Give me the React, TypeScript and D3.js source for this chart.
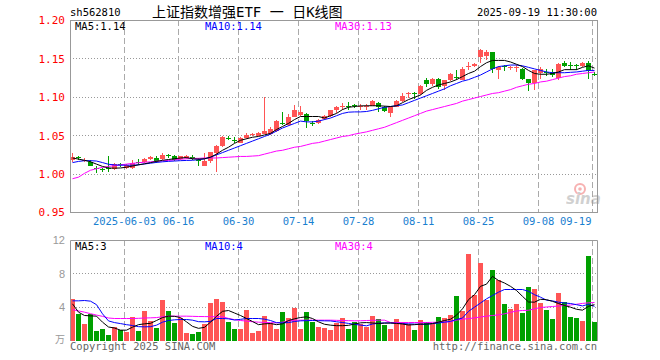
import React from "react";
import * as d3 from "d3";

// trading-day index of each date label on the x axis
const tickIdx = [9, 18, 28, 38, 48, 58, 68, 78, 87];
const tickLabels = ["2025-06-03", "06-16", "06-30", "07-14", "07-28", "08-11", "08-25", "09-08", "09-19"];

const priceTicks = [0.95, 1.0, 1.05, 1.1, 1.15, 1.2];
const volTicks = [4, 8, 12];

const open = [
  1.019, 1.0225, 1.017, 1.016, 1.0085, 1.006, 1.0075, 1.007, 1.0135, 1.008,
  1.008, 1.016, 1.016, 1.02, 1.021, 1.02, 1.0245, 1.024, 1.02, 1.021,
  1.0225, 1.019, 1.011, 1.0177, 1.027, 1.037, 1.047, 1.045, 1.041, 1.0473,
  1.052, 1.05, 1.0525, 1.0516, 1.056, 1.066, 1.0633, 1.075, 1.077, 1.0785,
  1.0668, 1.0663, 1.072, 1.0763, 1.083, 1.087, 1.0885, 1.0895, 1.0878, 1.088,
  1.0893, 1.093, 1.088, 1.08, 1.088, 1.0955, 1.104, 1.105, 1.1045, 1.1228,
  1.1167, 1.124, 1.115, 1.122, 1.1265, 1.123, 1.14, 1.1405, 1.153, 1.1544,
  1.1587, 1.135, 1.1405, 1.1385, 1.1385, 1.137, 1.1232, 1.1184, 1.131, 1.133,
  1.1327, 1.1255, 1.145, 1.142, 1.1415, 1.1405, 1.145, 1.1302,
];
const high = [
  1.027, 1.024, 1.0205, 1.018, 1.011, 1.008, 1.023, 1.015, 1.0145, 1.013,
  1.018, 1.02, 1.021, 1.024, 1.024, 1.0275, 1.026, 1.025, 1.024, 1.025,
  1.025, 1.021, 1.027, 1.029, 1.038, 1.05, 1.049, 1.048, 1.048, 1.054,
  1.054, 1.055, 1.1, 1.061, 1.07, 1.0806, 1.078, 1.0906, 1.089, 1.0795,
  1.069, 1.0715, 1.077, 1.084, 1.089, 1.0924, 1.0937, 1.0915, 1.091, 1.091,
  1.097, 1.094, 1.0885, 1.089, 1.097, 1.105, 1.1075, 1.107, 1.116, 1.1245,
  1.125, 1.125, 1.123, 1.132, 1.136, 1.139, 1.1457, 1.145, 1.1632, 1.162,
  1.159, 1.1414, 1.1427, 1.1414, 1.1427, 1.138, 1.124, 1.136, 1.14, 1.137,
  1.137, 1.145, 1.147, 1.1457, 1.143, 1.146, 1.147, 1.133,
];
const low = [
  1.0155, 1.019, 1.016, 1.01, 1.002, 1.003, 1.003, 1.005, 1.009, 1.007,
  1.007, 1.012, 1.015, 1.019, 1.015, 1.019, 1.021, 1.017, 1.019, 1.02,
  1.018, 1.011, 1.01, 1.015, 1.003, 1.035, 1.045, 1.041, 1.04, 1.046,
  1.05, 1.049, 1.052, 1.051, 1.055, 1.064, 1.062, 1.074, 1.076, 1.06,
  1.063, 1.065, 1.071, 1.075, 1.08, 1.0837, 1.0837, 1.086, 1.084, 1.084,
  1.0885, 1.0815, 1.0815, 1.0737, 1.087, 1.094, 1.099, 1.098, 1.1025, 1.1137,
  1.115, 1.111, 1.1097, 1.121, 1.122, 1.122, 1.136, 1.139, 1.1445, 1.148,
  1.1316, 1.124, 1.134, 1.135, 1.1335, 1.123, 1.108, 1.11, 1.124, 1.128,
  1.127, 1.1219, 1.139, 1.136, 1.135, 1.1395, 1.124, 1.1275,
];
const close = [
  1.022, 1.022, 1.019, 1.01, 1.008, 1.0055, 1.0065, 1.013, 1.013, 1.012,
  1.015, 1.015, 1.02, 1.0225, 1.017, 1.0255, 1.024, 1.019, 1.023, 1.024,
  1.022, 1.0185, 1.0165, 1.0285, 1.037, 1.048, 1.0468, 1.0446, 1.0473, 1.0503,
  1.0525, 1.053, 1.0555, 1.059, 1.069, 1.0655, 1.075, 1.0837, 1.081, 1.069,
  1.0663, 1.0707, 1.0763, 1.0837, 1.088, 1.0885, 1.0878, 1.089, 1.0885, 1.0893,
  1.095, 1.088, 1.0826, 1.088, 1.0955, 1.1023, 1.1053, 1.1045, 1.115, 1.1175,
  1.124, 1.113, 1.122, 1.1306, 1.126, 1.137, 1.1405, 1.1437, 1.162, 1.1587,
  1.137, 1.139, 1.14, 1.139, 1.139, 1.124, 1.1184, 1.1349, 1.137, 1.1325,
  1.1284, 1.1437, 1.1405, 1.1414, 1.141, 1.145, 1.134, 1.1297,
];

const ma5 = [
  1.021, 1.0195, 1.018, 1.016, 1.013, 1.01, 1.008, 1.0077, 1.008, 1.009,
  1.0105, 1.012, 1.0134, 1.015, 1.0165, 1.018, 1.019, 1.02, 1.021, 1.0215,
  1.02, 1.0195, 1.02, 1.022, 1.026, 1.031, 1.035, 1.04, 1.044, 1.046,
  1.048, 1.049, 1.051, 1.053, 1.058, 1.062, 1.066, 1.071, 1.075, 1.075,
  1.075, 1.075, 1.073, 1.076, 1.079, 1.084, 1.087, 1.088, 1.0888, 1.089,
  1.089, 1.089, 1.0885, 1.088, 1.089, 1.093, 1.097, 1.1, 1.103, 1.109,
  1.113, 1.116, 1.118, 1.12, 1.123, 1.127, 1.131, 1.134, 1.14, 1.145,
  1.148, 1.148, 1.148, 1.146, 1.143, 1.14, 1.135, 1.131, 1.13, 1.13,
  1.131, 1.133, 1.136, 1.136, 1.136, 1.139, 1.141, 1.138,
];
const ma10 = [
  1.015, 1.0165, 1.0175, 1.0175, 1.017, 1.015, 1.0128, 1.012, 1.0116, 1.0116,
  1.0116, 1.0122, 1.0132, 1.0142, 1.0152, 1.016, 1.0166, 1.017, 1.0175, 1.0178,
  1.018, 1.0188, 1.0198, 1.022, 1.025, 1.028, 1.031, 1.034, 1.037, 1.04,
  1.043, 1.046, 1.049, 1.052, 1.056, 1.06, 1.063, 1.066, 1.069, 1.068,
  1.068, 1.069, 1.071, 1.073, 1.076, 1.079, 1.0806, 1.081, 1.081, 1.0815,
  1.083, 1.085, 1.087, 1.088, 1.089, 1.09, 1.093, 1.096, 1.099, 1.102,
  1.105, 1.108, 1.111, 1.115, 1.118, 1.121, 1.123, 1.126, 1.129, 1.133,
  1.137, 1.14, 1.141, 1.142, 1.142, 1.141, 1.139, 1.137, 1.135, 1.133,
  1.132, 1.132, 1.132, 1.1325, 1.133, 1.134, 1.135, 1.135,
];
const ma30 = [
  0.994, 0.996, 1.001, 1.005, 1.007, 1.0088, 1.01, 1.011, 1.012, 1.013,
  1.014, 1.0148, 1.0155, 1.016, 1.0167, 1.0172, 1.0178, 1.0185, 1.0193, 1.02,
  1.0205, 1.0205, 1.021, 1.021, 1.021, 1.0215, 1.022, 1.0225, 1.023, 1.023,
  1.0235, 1.024, 1.026, 1.028, 1.03, 1.031, 1.033, 1.035, 1.036, 1.038,
  1.04, 1.041, 1.043, 1.045, 1.047, 1.049, 1.05, 1.052, 1.0535, 1.055,
  1.057, 1.059, 1.061, 1.064, 1.067, 1.07, 1.073, 1.076, 1.079, 1.082,
  1.084, 1.086, 1.088, 1.09, 1.092, 1.095, 1.097, 1.099, 1.101, 1.103,
  1.105, 1.106, 1.108, 1.11, 1.113, 1.115, 1.117, 1.118, 1.12, 1.121,
  1.123, 1.125, 1.127, 1.128, 1.13, 1.131, 1.132, 1.133,
];

// volume, 万
const volume = [
  4.96, 3.24, 1.96, 3.16, 1.16, 1.36, 0.64, 1.6, 1.24, 1.04,
  2.8, 1.12, 3.52, 2.32, 1.48, 4.84, 3.52, 2.08, 2.68, 0.88,
  0.76, 1.0, 1.96, 4.48, 4.96, 4.64, 2.2, 1.36, 1.36, 3.64,
  0.88, 1.12, 2.92, 2.08, 1.36, 3.4, 2.68, 3.88, 1.36, 3.4,
  2.2, 1.6, 1.48, 1.24, 2.12, 2.68, 1.36, 2.2, 1.96, 1.6,
  2.92, 2.56, 1.84, 1.36, 2.56, 2.2, 1.96, 1.24, 2.44, 2.2,
  1.96, 2.8, 2.68, 3.04, 5.32, 3.52, 10.36, 5.44, 9.28, 4.84,
  8.44, 7.24, 4.36, 3.76, 4.36, 3.28, 6.4, 6.16, 4.48, 3.64,
  2.56, 5.68, 4.6, 2.8, 2.68, 2.32, 10.12, 2.2,
];
const volMa5 = [
  4.4, 3.4, 3.0, 2.96, 2.92, 2.2, 1.62, 1.5, 1.24, 1.24,
  1.6, 1.9, 2.0, 2.06, 2.4, 2.75, 2.92, 2.9, 2.75, 2.24,
  1.7, 1.46, 1.58, 2.2, 2.9, 3.5, 3.6, 3.3, 3.0, 2.64,
  2.28, 1.9, 2.0, 2.04, 1.9, 2.0, 2.4, 2.6, 2.76, 2.84,
  2.64, 2.24, 1.95, 1.84, 1.78, 1.78, 1.82, 1.98, 2.12, 2.15,
  2.1, 2.05, 2.08, 2.1, 2.05, 1.98, 1.86, 1.9, 1.96, 1.96,
  2.04, 2.2, 2.4, 2.55, 3.04, 3.8, 4.9, 5.5, 6.5, 6.76,
  7.7, 7.2, 6.9, 6.5, 6.0, 5.3, 4.62, 4.6, 4.94, 4.9,
  4.7, 4.44, 4.2, 4.0, 3.75, 3.64, 4.1, 4.3,
];
const volMa10 = [
  4.76, 4.76, 4.8, 4.72, 4.3, 3.2, 2.35, 2.15, 2.03, 1.9,
  1.8, 1.66, 1.64, 1.66, 1.84, 2.2, 2.4, 2.48, 2.52, 2.52,
  2.44, 2.26, 2.24, 2.3, 2.64, 2.64, 2.6, 2.46, 2.54, 2.64,
  2.64, 2.64, 2.56, 2.4, 2.14, 2.12, 2.15, 2.28, 2.36, 2.38,
  2.4, 2.38, 2.36, 2.35, 2.25, 2.16, 2.05, 1.94, 1.85, 1.76,
  1.98, 2.06, 2.12, 2.1, 2.06, 2.03, 2.0, 1.97, 1.96, 1.96,
  2.02, 2.1, 2.2, 2.3, 2.52, 2.7, 3.5, 4.0, 4.5, 5.0,
  5.4, 5.8, 6.12, 6.12, 6.12, 6.12, 5.9, 5.5, 5.2, 4.84,
  4.75, 4.6, 4.5, 4.44, 4.3, 4.15, 4.35, 4.1,
];
const volMa30 = [
  3.7, 3.55, 3.4, 3.22, 3.05, 2.9, 2.7, 2.64, 2.64, 2.64,
  2.64, 2.66, 2.7, 2.72, 2.75, 2.85, 2.92, 2.92, 2.92, 2.92,
  2.9, 2.88, 2.87, 2.86, 2.85, 2.84, 2.65, 2.5, 2.4, 2.33,
  2.25, 2.2, 2.17, 2.14, 2.12, 2.2, 2.35, 2.44, 2.44, 2.44,
  2.44, 2.44, 2.44, 2.44, 2.42, 2.4, 2.38, 2.36, 2.37, 2.4,
  2.42, 2.44, 2.44, 2.16, 2.16, 2.16, 2.16, 2.16, 2.16, 2.16,
  2.18, 2.2, 2.22, 2.24, 2.45, 2.56, 2.62, 2.72, 2.82, 2.92,
  3.0, 3.08, 3.2, 3.38, 3.54, 3.6, 3.63, 3.8, 3.96, 4.02,
  4.08, 4.14, 4.2, 4.26, 4.35, 4.45, 4.52, 4.56,
];

const W = 660;
const H = 360;
const left = 70;
const right = 597;
const mono = "'DejaVu Sans Mono', monospace";
const UP = "#ff5555";
const DOWN = "#00a000";
const GRID = "#aaaaaa";
const FRAME = "#999999";

export default function App() {
  const n = close.length;
  const idx = d3.range(n);
  const x = d3.scaleBand<number>().domain(idx).range([left, left + n * 6]);
  const y = d3.scaleLinear().domain([0.95, 1.2]).range([212.5, 20.5]);
  const yv = d3.scaleLinear().domain([0, 12]).range([340.5, 240.5]);
  const cx = (i: number) => (x(i) ?? 0) + 2.5;
  const px = (v: number) => Math.floor(v) + 0.5;

  const priceLine = (arr: number[]) =>
    d3.line<number>().x((_, i) => cx(i)).y((d) => y(d))(arr) ?? "";
  const volLine = (arr: number[]) =>
    d3.line<number>().x((_, i) => cx(i)).y((d) => yv(d))(arr) ?? "";

  const fmt = d3.format(".2f");

  const vGrid = (top: number, bottom: number) =>
    tickIdx.map((t) => (
      <line key={"g" + top + t} x1={px(x(t) ?? 0)} x2={px(x(t) ?? 0)} y1={top} y2={bottom}
        stroke={GRID} strokeDasharray="6,3" />
    ));

  return (
    <div style={{ position: "absolute", left: 0, top: 0 }}>
      <svg width={W} height={H} style={{ display: "block", background: "#fff" }}>
        <defs>
          <clipPath id="pc"><rect x={left + 0.5} y={20} width={right - left} height={193} /></clipPath>
          <clipPath id="vc"><rect x={left + 0.5} y={240} width={right - left} height={101} /></clipPath>
        </defs>

        {/* header */}
        <text x={70} y={16} fontFamily={mono} fontSize={10.5}>sh562810</text>
        <text x={152} y={17} fontFamily={"'DejaVu Sans Mono', 'Noto Sans CJK SC', monospace"} fontSize={14}>上证指数增强ETF 一 日K线图</text>
        <text x={597} y={16} fontFamily={mono} fontSize={10.5} textAnchor="end">2025-09-19 11:30:00</text>

        {/* price grid */}
        {priceTicks.slice(1, -1).map((t) => (
          <line key={"h" + t} x1={left} x2={right} y1={px(y(t))} y2={px(y(t))} stroke={FRAME} strokeDasharray="1,2" />
        ))}
        {vGrid(20, 212)}
        {priceTicks.map((t) => (
          <text key={"pl" + t} x={65} y={y(t)} dy="0.35em" textAnchor="end" fill="#ff0000" fontFamily={mono} fontSize={11}>{fmt(t)}</text>
        ))}

        {/* date labels */}
        {tickIdx.map((t, k) => (
          <text key={"dl" + t} x={k === tickIdx.length - 1 ? px(x(t) ?? 0) - 1 : px(x(t) ?? 0)} y={225}
            textAnchor={k === tickIdx.length - 1 ? "end" : "middle"} fill="#1a80d0" fontFamily={mono} fontSize={10.5}>{tickLabels[k]}</text>
        ))}

        {/* sina watermark */}
        <g opacity={0.45}>
          <circle cx={580} cy={189} r={5} fill="none" stroke="#ee5555" strokeWidth={2} />
          <circle cx={580} cy={189} r={1.8} fill="#ee5555" />
          <text x={566} y={204} fontFamily="'DejaVu Sans', sans-serif" fontStyle="italic" fontWeight="bold" fontSize={15} fill="#999">sina</text>
        </g>

        {/* candles */}
        <g clipPath="url(#pc)" shapeRendering="crispEdges">
          {idx.map((i) => {
            const up = close[i] >= open[i];
            const col = up ? UP : DOWN;
            const x0 = x(i) ?? 0;
            const top = y(Math.max(open[i], close[i]));
            const bot = y(Math.min(open[i], close[i]));
            return (
              <g key={"c" + i}>
                <rect x={x0 + 2} width={1} y={y(high[i])} height={Math.max(1, y(low[i]) - y(high[i]))} fill={col} />
                <rect x={x0} width={5} y={top} height={Math.max(1, bot - top)} fill={col} />
              </g>
            );
          })}
        </g>
        <g clipPath="url(#pc)" fill="none" strokeWidth={1}>
          <path d={priceLine(ma30)} stroke="#ff00ff" />
          <path d={priceLine(ma10)} stroke="#0000ff" />
          <path d={priceLine(ma5)} stroke="#000000" />
        </g>

        {/* price frame */}
        <rect x={left + 0.5} y={20.5} width={right - left} height={192} fill="none" stroke={FRAME} />

        <text x={75} y={30} fontFamily={mono} fontSize={10.5} fill="#000">MA5:1.14</text>
        <text x={205} y={30} fontFamily={mono} fontSize={10.5} fill="#0000ff">MA10:1.14</text>
        <text x={335} y={30} fontFamily={mono} fontSize={10.5} fill="#ff00ff">MA30:1.13</text>

        {/* volume grid */}
        {volTicks.slice(0, -1).map((t) => (
          <line key={"vh" + t} x1={left} x2={right} y1={px(yv(t))} y2={px(yv(t))} stroke={FRAME} strokeDasharray="1,2" />
        ))}
        {vGrid(240, 340)}
        {volTicks.map((t) => (
          <text key={"vl" + t} x={65} y={yv(t)} dy="0.35em" textAnchor="end" fill="#999" fontFamily="'Liberation Sans', sans-serif" fontSize={11}>{t}</text>
        ))}
        <text x={65} y={343} textAnchor="end" fill="#999" fontFamily="'Noto Sans CJK SC', sans-serif" fontSize={10}>万</text>

        <g clipPath="url(#vc)" shapeRendering="crispEdges">
          {idx.map((i) => (
            <rect key={"v" + i} x={x(i) ?? 0} width={5.3} y={yv(volume[i])} height={yv(0) - yv(volume[i])}
              fill={close[i] >= open[i] ? UP : DOWN} />
          ))}
        </g>
        <g clipPath="url(#vc)" fill="none" strokeWidth={1}>
          <path d={volLine(volMa30)} stroke="#ff00ff" />
          <path d={volLine(volMa10)} stroke="#0000ff" />
          <path d={volLine(volMa5)} stroke="#000000" />
        </g>

        {/* volume frame */}
        <polyline points={`${left + 0.5},341 ${left + 0.5},240.5 ${right + 0.5},240.5 ${right + 0.5},341`} fill="none" stroke={FRAME} />

        <text x={75} y={250} fontFamily={mono} fontSize={10.5} fill="#000">MA5:3</text>
        <text x={205} y={250} fontFamily={mono} fontSize={10.5} fill="#0000ff">MA10:4</text>
        <text x={335} y={250} fontFamily={mono} fontSize={10.5} fill="#ff00ff">MA30:4</text>

        {/* footer */}
        <text x={70} y={350} fontFamily={mono} fontSize={10.5} fill="#666">Copyright 2025 SINA.COM</text>
        <text x={597} y={350} fontFamily={mono} fontSize={10.5} fill="#666" textAnchor="end">http://finance.sina.com.cn</text>
      </svg>
    </div>
  );
}
